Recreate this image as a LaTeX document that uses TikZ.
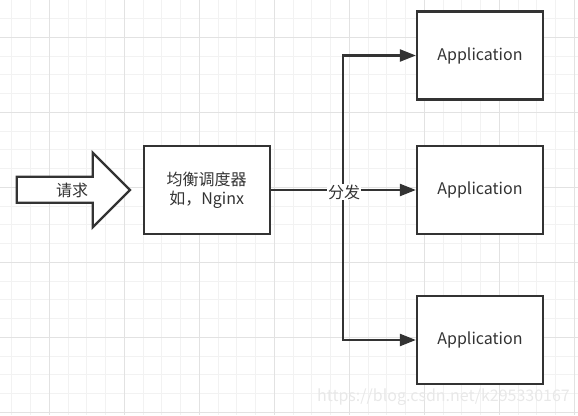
\documentclass[tikz,border=0pt]{standalone}
\usepackage{fontspec}
\setmainfont{Noto Sans CJK SC}
\usetikzlibrary{arrows.meta}

\definecolor{ink}{HTML}{333333}
\definecolor{minorgrid}{HTML}{F2F2F2}
\definecolor{majorgrid}{HTML}{E2E2E2}

\tikzset{
  box/.style={draw=ink, line width=2.3pt, fill=white, text=ink,
    minimum width=126pt, minimum height=88pt, inner sep=0pt,
    font=\fontsize{16}{19.5}\selectfont, align=center},
  link/.style={draw=ink, line width=2.3pt, -{Triangle[length=16pt,width=12pt]}},
}

\begin{document}
\begin{tikzpicture}[x=1pt, y=-1pt]
  \useasboundingbox (0,0) rectangle (578,415);
  % background grid
  \foreach \k in {-2,...,28} \draw[minorgrid, line width=1pt] (49.3+18.75*\k,0) -- ++(0,415);
  \foreach \k in {-1,...,20} \draw[minorgrid, line width=1pt] (0,37.3+18.75*\k) -- ++(578,0);
  \foreach \k in {0,...,7} \draw[majorgrid, line width=1pt] (49.3+75*\k,0) -- ++(0,415);
  \foreach \k in {0,...,5} \draw[majorgrid, line width=1pt] (0,37.3+75*\k) -- ++(578,0);

  % request arrow
  \draw[ink, line width=2.3pt, fill=white, line join=miter]
    (16.7,176.7) -- (92.7,176.7) -- (92.7,152.7) -- (130,190)
    -- (92.7,227.3) -- (92.7,202.7) -- (16.7,202.7) -- cycle;
  \node[text=ink, font=\fontsize{16}{19.5}\selectfont] (req) at (72,190.5) {请求};

  % boxes
  \node[box] (lb) at (206.7,190) {均衡调度器\\如，Nginx};
  \node[box] (app1) at (480,55.5) {Application};
  \node[box] (app2) at (480,190) {Application};
  \node[box] (app3) at (480,340) {Application};

  % dispatch
  \coordinate (fork) at (343,190);
  \draw[link] (lb.east) -- (app2.west);
  \draw[link] (fork) |- (app1.west);
  \draw[link] (fork) |- (app3.west);
  \node[fill=white, text=ink, inner sep=1pt, font=\fontsize{16}{19.5}\selectfont] (split) at (344,192) {分发};

  % watermark
  \node[anchor=east, text=gray!18, inner sep=0pt, font=\fontsize{16}{19}\selectfont] (mark) at (570,397) {https://blog.csdn.net/k295330167};
\end{tikzpicture}
\end{document}
